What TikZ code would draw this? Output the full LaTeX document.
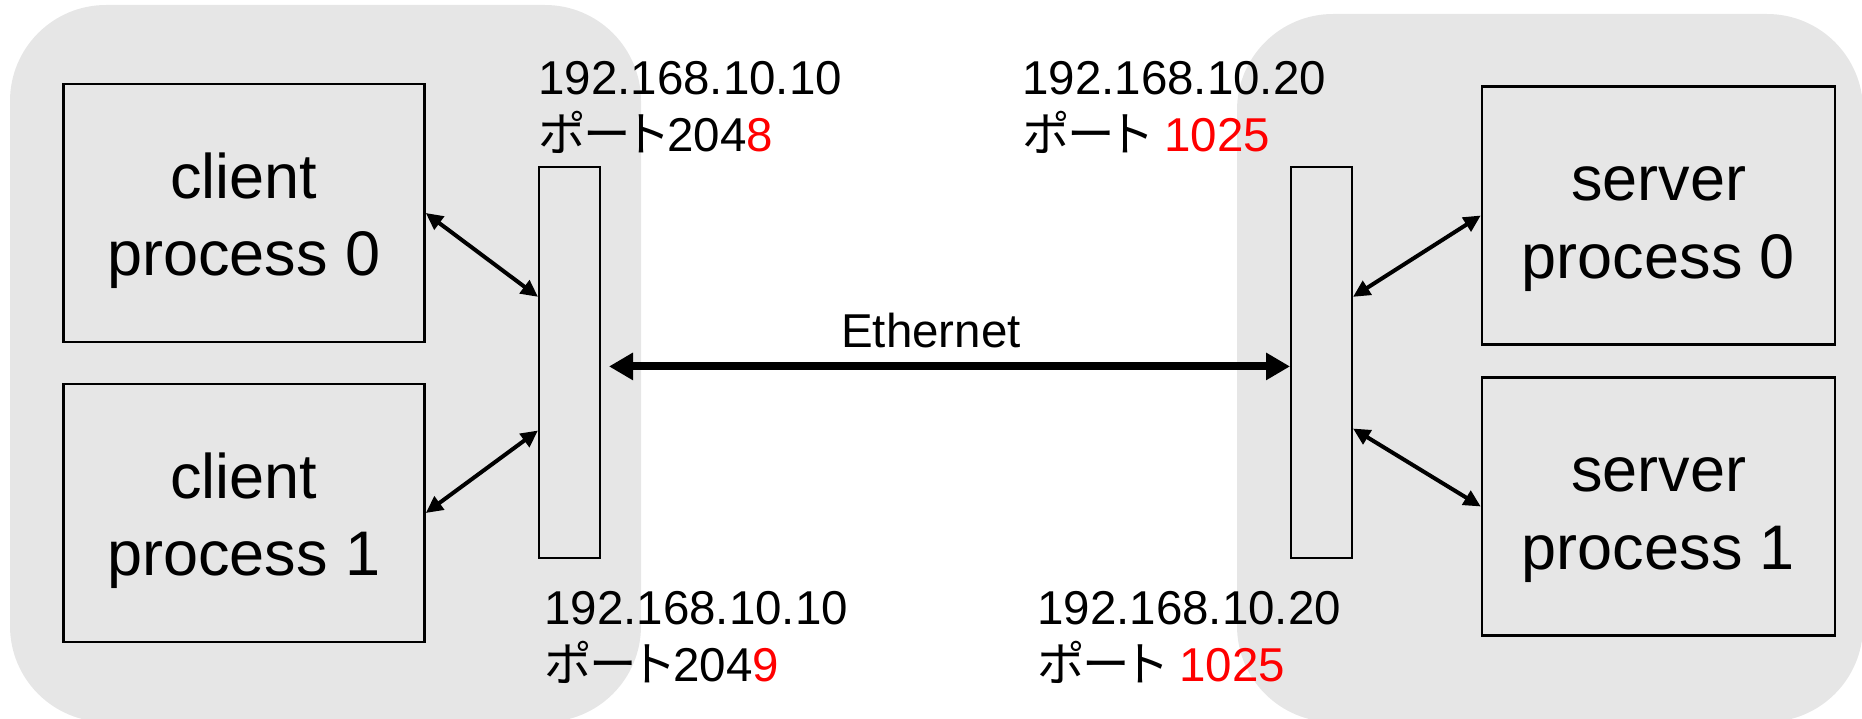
\documentclass[tikz,border=0pt]{standalone}
\usepackage{fontspec}
\setmainfont{Liberation Sans}
\newfontfamily\jp{Noto Sans CJK JP}[RawFeature=+palt]
\usetikzlibrary{arrows.meta,calc}
\definecolor{bggray}{RGB}{230,230,230}
\definecolor{portred}{RGB}{255,0,0}
\begin{document}
\begin{tikzpicture}[x=1pt,y=-1pt,
  region/.style={fill=bggray, rounded corners=96pt},
  procbox/.style={draw=black, line width=2.5pt, minimum height=258pt, inner sep=0pt, align=center,
    font=\fontsize{63pt}{77.5pt}\selectfont},
  portbar/.style={draw=black, line width=2pt, minimum width=61pt, minimum height=391pt, inner sep=0pt},
  iplabel/.style={anchor=base west, inner sep=0pt, font=\fontsize{47.5pt}{55pt}\selectfont},
  smallarrow/.style={line width=4pt, {Triangle[length=17pt,width=16pt]}-{Triangle[length=17pt,width=16pt]}},
  bigarrow/.style={line width=8pt, {Triangle[length=24pt,width=26pt]}-{Triangle[length=24pt,width=26pt]}}
]
\useasboundingbox (0,0) rectangle (1862,719);
\begin{scope}
\clip (0,0) rectangle (1862,719);
\fill[region] (10,5) rectangle (641,722);
\fill[region] (1237,14) rectangle (1863,722);
\end{scope}

% process boxes
\node[procbox, minimum width=361pt] (c0) at (244,213) {\rule{0pt}{61.5pt}client\\process 0\rule[-14pt]{0pt}{14pt}};
\node[procbox, minimum width=361pt] (c1) at (244,513) {\rule{0pt}{61.5pt}client\\process 1\rule[-14pt]{0pt}{14pt}};
\node[procbox, minimum width=353pt] (s0) at (1658.5,215.5) {\rule{0pt}{61.5pt}server\\process 0\rule[-14pt]{0pt}{14pt}};
\node[procbox, minimum width=353pt] (s1) at (1658.5,506.5) {\rule{0pt}{61.5pt}server\\process 1\rule[-14pt]{0pt}{14pt}};

% port bars
\node[portbar] (lbar) at (569.5,362.5) {};
\node[portbar] (rbar) at (1321.5,362.5) {};

% address labels
\node[iplabel] (tl1) at (538,95) {192.168.10.10};
\node[iplabel] (tl2) at (538,152) {{\jp ポート}204\textcolor{portred}{8}};
\node[iplabel] (tr1) at (1022,95) {192.168.10.20};
\node[iplabel] (tr2) at (1022,152) {{\jp ポート} \textcolor{portred}{1025}};
\node[iplabel] (bl1) at (544,624) {192.168.10.10};
\node[iplabel] (bl2) at (544,681) {{\jp ポート}204\textcolor{portred}{9}};
\node[iplabel] (br1) at (1037,624) {192.168.10.20};
\node[iplabel] (br2) at (1037,681) {{\jp ポート} \textcolor{portred}{1025}};

% Ethernet
\node[anchor=base, inner sep=0pt, font=\fontsize{47.5pt}{55pt}\selectfont] (eth) at (931,347) {Ethernet};
\draw[bigarrow, shorten <=8pt] ($(lbar.north east)!0.51!(lbar.south east)$) -- ($(rbar.north west)!0.51!(rbar.south west)$);

% process connectors
\draw[smallarrow] (c0.east) -- ($(lbar.north west)!0.333!(lbar.south west)$);
\draw[smallarrow] (c1.east) -- ($(lbar.north west)!0.673!(lbar.south west)$);
\draw[smallarrow] (s0.west) -- ($(rbar.north east)!0.333!(rbar.south east)$);
\draw[smallarrow] (s1.west) -- ($(rbar.north east)!0.668!(rbar.south east)$);
\end{tikzpicture}
\end{document}
